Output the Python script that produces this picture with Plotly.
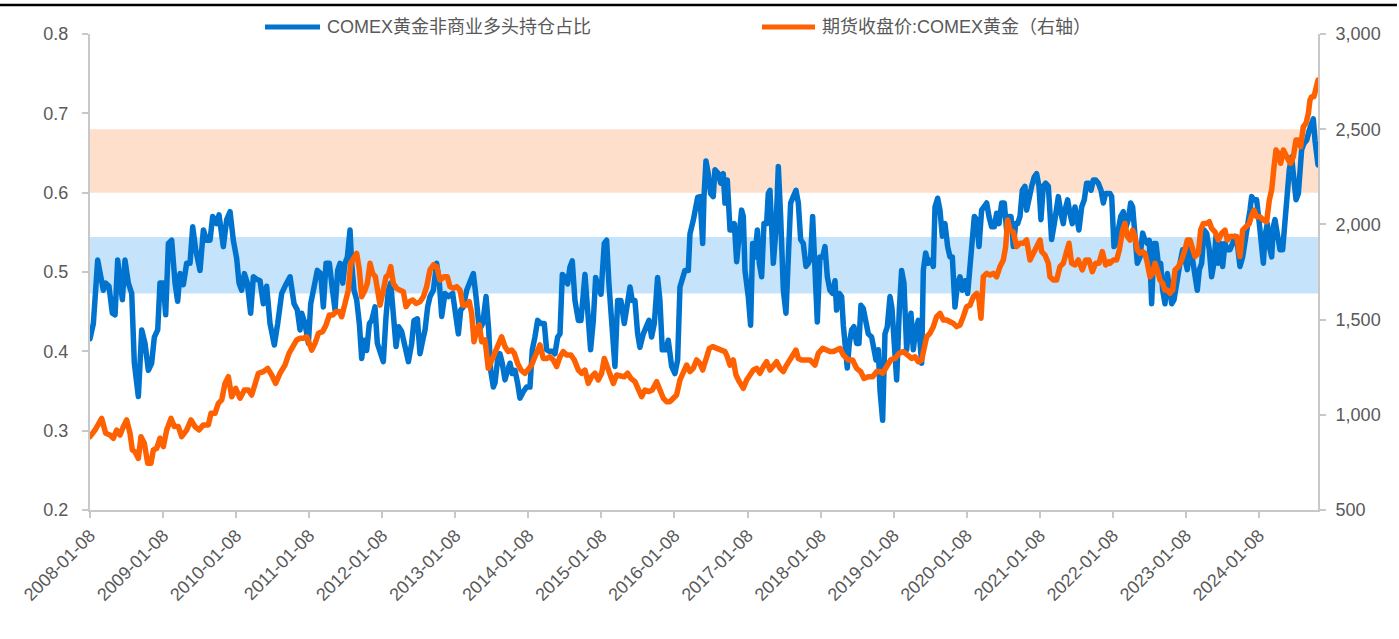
import pandas as pd
import plotly.graph_objects as go

# ---- COMEX gold: non-commercial long share (left axis) ----
blue_t = [
    2008.019, 2008.065, 2008.124, 2008.156, 2008.202, 2008.234, 2008.279, 2008.325, 2008.362, 2008.398,
    2008.430, 2008.462, 2008.498, 2008.544, 2008.590, 2008.626, 2008.681, 2008.727, 2008.772, 2008.818,
    2008.863, 2008.900, 2008.946, 2008.977, 2009.023, 2009.055, 2009.092, 2009.137, 2009.183, 2009.219,
    2009.251, 2009.297, 2009.342, 2009.388, 2009.425, 2009.466, 2009.525, 2009.571, 2009.616, 2009.662,
    2009.698, 2009.753, 2009.785, 2009.822, 2009.844, 2009.890, 2009.936, 2009.981, 2010.027, 2010.059,
    2010.095, 2010.132, 2010.173, 2010.218, 2010.255, 2010.300, 2010.346, 2010.392, 2010.437, 2010.483,
    2010.542, 2010.588, 2010.643, 2010.688, 2010.757,
    2010.812, 2010.857, 2010.894, 2010.917, 2010.962, 2011.008, 2011.040, 2011.085, 2011.131, 2011.177,
    2011.213, 2011.250, 2011.295, 2011.327, 2011.373, 2011.409, 2011.441, 2011.478, 2011.510, 2011.542,
    2011.578, 2011.601, 2011.633, 2011.669, 2011.706, 2011.738, 2011.770, 2011.806, 2011.843, 2011.875,
    2011.920, 2011.952, 2011.989, 2012.034, 2012.071, 2012.103, 2012.135, 2012.171, 2012.208, 2012.244,
    2012.285, 2012.331, 2012.377, 2012.422, 2012.454, 2012.500, 2012.536, 2012.573, 2012.605, 2012.641,
    2012.673, 2012.719, 2012.764, 2012.801, 2012.833, 2012.878, 2012.924, 2012.983, 2013.029, 2013.061,
    2013.093, 2013.129, 2013.175, 2013.220, 2013.266, 2013.303, 2013.348, 2013.394, 2013.440, 2013.476,
    2013.503, 2013.540,
    2013.562, 2013.598, 2013.630, 2013.662, 2013.699, 2013.735, 2013.767, 2013.799, 2013.836, 2013.872,
    2013.904, 2013.950, 2013.995, 2014.041, 2014.073, 2014.109, 2014.146, 2014.192, 2014.237, 2014.269,
    2014.301, 2014.347, 2014.383, 2014.420, 2014.452, 2014.484, 2014.520, 2014.557, 2014.588, 2014.620,
    2014.657, 2014.703, 2014.739, 2014.794, 2014.839, 2014.871, 2014.908, 2014.940, 2014.976, 2015.013,
    2015.058, 2015.090, 2015.122, 2015.159, 2015.204, 2015.241, 2015.286, 2015.332, 2015.378, 2015.410,
    2015.442, 2015.478, 2015.515, 2015.546, 2015.592, 2015.638, 2015.670, 2015.706, 2015.743, 2015.788,
    2015.820, 2015.852, 2015.898, 2015.934, 2015.980, 2016.025, 2016.062, 2016.094, 2016.126, 2016.162,
    2016.208, 2016.231, 2016.276, 2016.299, 2016.336,
    2016.368, 2016.405, 2016.423, 2016.450, 2016.482, 2016.514, 2016.550, 2016.573, 2016.619, 2016.651,
    2016.687, 2016.710, 2016.742, 2016.779, 2016.815, 2016.838, 2016.870, 2016.906, 2016.938, 2016.961,
    2016.984, 2017.029, 2017.061, 2017.089, 2017.121, 2017.153, 2017.180, 2017.212, 2017.244, 2017.280,
    2017.303, 2017.326, 2017.349, 2017.372, 2017.408, 2017.440, 2017.472, 2017.509, 2017.545, 2017.577,
    2017.609, 2017.645, 2017.682, 2017.714, 2017.746, 2017.782, 2017.819, 2017.851, 2017.883, 2017.910,
    2017.942, 2017.974, 2018.010, 2018.047, 2018.079, 2018.111, 2018.147, 2018.184, 2018.216, 2018.238,
    2018.275, 2018.307, 2018.330, 2018.352, 2018.384, 2018.412, 2018.444, 2018.476, 2018.512, 2018.544,
    2018.571, 2018.603, 2018.640, 2018.672, 2018.717, 2018.749, 2018.777, 2018.809, 2018.832, 2018.868,
    2018.900, 2018.932, 2018.969, 2018.996, 2019.023, 2019.060, 2019.096, 2019.128, 2019.160,
    2019.197, 2019.220, 2019.256, 2019.288, 2019.320, 2019.356, 2019.379, 2019.402, 2019.425, 2019.457,
    2019.493, 2019.530, 2019.562, 2019.585, 2019.621, 2019.653, 2019.685, 2019.721, 2019.758, 2019.790,
    2019.822, 2019.858, 2019.895, 2019.927, 2019.959, 2019.995, 2020.032, 2020.064, 2020.086, 2020.123,
    2020.155, 2020.187, 2020.223, 2020.260, 2020.292, 2020.324, 2020.360, 2020.397, 2020.429, 2020.461,
    2020.497, 2020.533, 2020.565, 2020.597, 2020.625, 2020.657, 2020.689, 2020.716, 2020.748, 2020.780,
    2020.816, 2020.839, 2020.871, 2020.908, 2020.944, 2020.976, 2021.008, 2021.035, 2021.067, 2021.099,
    2021.136, 2021.158, 2021.181, 2021.218, 2021.250, 2021.273, 2021.309, 2021.341, 2021.364, 2021.400,
    2021.432, 2021.464, 2021.501, 2021.523, 2021.555, 2021.592, 2021.628, 2021.660, 2021.692, 2021.720,
    2021.752, 2021.784, 2021.820, 2021.857, 2021.889, 2021.920, 2021.957,
    2021.980, 2022.003, 2022.035, 2022.062, 2022.094, 2022.126, 2022.162, 2022.199, 2022.231, 2022.263,
    2022.290, 2022.322, 2022.354, 2022.391, 2022.427, 2022.459, 2022.491, 2022.518, 2022.550, 2022.582,
    2022.610, 2022.641, 2022.673, 2022.701, 2022.733, 2022.765, 2022.792, 2022.824, 2022.856, 2022.892,
    2022.938, 2022.975, 2023.006, 2023.038, 2023.075, 2023.111, 2023.143, 2023.175, 2023.203, 2023.235,
    2023.267, 2023.303, 2023.339, 2023.371, 2023.403, 2023.431, 2023.463, 2023.495, 2023.522, 2023.554,
    2023.586, 2023.622, 2023.659, 2023.691, 2023.723, 2023.759, 2023.796, 2023.828, 2023.860, 2023.896,
    2023.919, 2023.951, 2023.987, 2024.024, 2024.056, 2024.079, 2024.101, 2024.133, 2024.161, 2024.193,
    2024.215, 2024.238, 2024.261, 2024.284, 2024.307, 2024.343, 2024.375, 2024.407, 2024.434, 2024.466,
    2024.498, 2024.526, 2024.558, 2024.580, 2024.603, 2024.635, 2024.672, 2024.708, 2024.740, 2024.763,
    2024.786, 2024.809, 2024.827,
]
blue_v = [
    0.416, 0.435, 0.515, 0.502, 0.477, 0.486, 0.482, 0.448, 0.446, 0.515,
    0.494, 0.465, 0.515, 0.486, 0.473, 0.385, 0.343, 0.427, 0.410, 0.376,
    0.385, 0.418, 0.427, 0.486, 0.486, 0.446, 0.536, 0.540, 0.486, 0.463,
    0.498, 0.484, 0.511, 0.511, 0.557, 0.528, 0.502, 0.553, 0.540, 0.540,
    0.570, 0.561, 0.572, 0.549, 0.532, 0.566, 0.576, 0.540, 0.517, 0.486,
    0.477, 0.498, 0.486, 0.448, 0.494, 0.491, 0.489, 0.460, 0.482, 0.435,
    0.408, 0.435, 0.473, 0.482, 0.494,
    0.460, 0.452, 0.427, 0.448, 0.435, 0.410, 0.460, 0.486, 0.502, 0.498,
    0.456, 0.511, 0.511, 0.486, 0.452, 0.502, 0.511, 0.486, 0.511, 0.519,
    0.553, 0.511, 0.477, 0.465, 0.435, 0.391, 0.414, 0.401, 0.435, 0.439,
    0.456, 0.410, 0.397, 0.387, 0.444, 0.477, 0.486, 0.439, 0.406, 0.431,
    0.425, 0.406, 0.387, 0.410, 0.439, 0.441, 0.397, 0.414, 0.427, 0.456,
    0.469, 0.477, 0.511, 0.486, 0.444, 0.473, 0.469, 0.473, 0.439, 0.422,
    0.452, 0.456, 0.477, 0.486, 0.498, 0.469, 0.427, 0.435, 0.469, 0.427,
    0.376, 0.355,
    0.360, 0.389, 0.397, 0.385, 0.364, 0.376, 0.385, 0.372, 0.376, 0.360,
    0.341, 0.349, 0.355, 0.355, 0.402, 0.418, 0.439, 0.435, 0.435, 0.402,
    0.400, 0.400, 0.397, 0.418, 0.422, 0.497, 0.493, 0.485, 0.506, 0.514,
    0.464, 0.439, 0.439, 0.497, 0.435, 0.402, 0.439, 0.493, 0.481, 0.472,
    0.536, 0.540, 0.485, 0.439, 0.381, 0.464, 0.464, 0.435, 0.464, 0.481,
    0.464, 0.464, 0.422, 0.405, 0.422, 0.431, 0.439, 0.418, 0.435, 0.493,
    0.464, 0.402, 0.402, 0.414, 0.381, 0.372, 0.389, 0.481, 0.489, 0.502,
    0.502, 0.548, 0.565, 0.575, 0.594,
    0.595, 0.536, 0.595, 0.640, 0.624, 0.599, 0.595, 0.629, 0.624, 0.612,
    0.624, 0.587, 0.616, 0.553, 0.553, 0.561, 0.513, 0.553, 0.578, 0.570,
    0.502, 0.469, 0.433, 0.536, 0.519, 0.553, 0.511, 0.494, 0.561, 0.561,
    0.599, 0.603, 0.557, 0.511, 0.553, 0.633, 0.570, 0.477, 0.448, 0.536,
    0.587, 0.595, 0.603, 0.587, 0.541, 0.536, 0.507, 0.511, 0.519, 0.570,
    0.477, 0.437, 0.519, 0.519, 0.532, 0.494, 0.477, 0.473, 0.489, 0.452,
    0.473, 0.469, 0.433, 0.405, 0.379, 0.410, 0.427, 0.431, 0.410, 0.410,
    0.458, 0.454, 0.431, 0.422, 0.418, 0.405, 0.389, 0.402, 0.351, 0.313,
    0.422, 0.431, 0.469, 0.454, 0.422, 0.364, 0.452, 0.502, 0.486,
    0.402, 0.427, 0.448, 0.402, 0.427, 0.439, 0.402, 0.385, 0.502, 0.524,
    0.511, 0.515, 0.507, 0.582, 0.593, 0.578, 0.545, 0.561, 0.532, 0.519,
    0.519, 0.456, 0.486, 0.494, 0.477, 0.489, 0.473, 0.507, 0.545, 0.570,
    0.566, 0.532, 0.578, 0.582, 0.587, 0.570, 0.557, 0.557, 0.574, 0.561,
    0.587, 0.587, 0.553, 0.570, 0.570, 0.532, 0.561, 0.561, 0.570, 0.603,
    0.608, 0.578, 0.595, 0.608, 0.620, 0.624, 0.608, 0.566, 0.608, 0.612,
    0.608, 0.570, 0.541, 0.561, 0.578, 0.595, 0.574, 0.561, 0.578, 0.591,
    0.574, 0.561, 0.582, 0.570, 0.553, 0.582, 0.591, 0.612, 0.612, 0.603,
    0.616, 0.616, 0.612, 0.603, 0.587, 0.599, 0.599,
    0.599, 0.595, 0.532, 0.536, 0.553, 0.570, 0.576, 0.557, 0.566, 0.587,
    0.582, 0.553, 0.511, 0.519, 0.549, 0.540, 0.536, 0.540, 0.460, 0.536,
    0.536, 0.511, 0.511, 0.477, 0.460, 0.498, 0.477, 0.460, 0.465, 0.490,
    0.511, 0.528, 0.511, 0.503, 0.536, 0.511, 0.498, 0.477, 0.503, 0.511,
    0.553, 0.549, 0.528, 0.494, 0.511, 0.545, 0.511, 0.536, 0.507, 0.536,
    0.528, 0.528, 0.536, 0.545, 0.536, 0.507, 0.519, 0.545, 0.557, 0.578,
    0.595, 0.591, 0.591, 0.561, 0.532, 0.511, 0.545, 0.561, 0.532, 0.519,
    0.557, 0.566, 0.553, 0.536, 0.528, 0.528, 0.570, 0.603, 0.629, 0.645,
    0.616, 0.591, 0.599, 0.624, 0.654, 0.662, 0.666, 0.679, 0.687, 0.693,
    0.666, 0.654, 0.635,
]

# ---- COMEX gold futures close, USD/oz (right axis) ----
gold_t = [
    2008.019, 2008.088, 2008.179, 2008.234, 2008.293, 2008.339, 2008.384, 2008.430, 2008.476, 2008.521,
    2008.567, 2008.599, 2008.635, 2008.681, 2008.717, 2008.763, 2008.809, 2008.854, 2008.886, 2008.932,
    2008.977, 2009.023, 2009.069, 2009.128, 2009.174, 2009.228, 2009.274, 2009.342, 2009.402, 2009.456,
    2009.511, 2009.571, 2009.639, 2009.675, 2009.730, 2009.776, 2009.822, 2009.867, 2009.913, 2009.959,
    2010.013, 2010.073, 2010.132, 2010.187, 2010.232, 2010.278, 2010.324, 2010.392, 2010.451, 2010.506,
    2010.560, 2010.620, 2010.688, 2010.743,
    2010.803, 2010.848, 2010.894, 2010.939, 2010.985, 2011.022, 2011.054, 2011.099, 2011.145, 2011.204,
    2011.250, 2011.295, 2011.341, 2011.387, 2011.432, 2011.464, 2011.510, 2011.555, 2011.587, 2011.633,
    2011.669, 2011.706, 2011.738, 2011.783, 2011.815, 2011.852, 2011.888, 2011.925, 2011.952, 2011.989,
    2012.025, 2012.071, 2012.103, 2012.135, 2012.171, 2012.217, 2012.262, 2012.308, 2012.345, 2012.390,
    2012.436, 2012.481, 2012.536, 2012.582, 2012.627, 2012.673, 2012.719, 2012.764, 2012.810, 2012.865,
    2012.910, 2012.947, 2012.993, 2013.038, 2013.084, 2013.120, 2013.166, 2013.211, 2013.243, 2013.275,
    2013.312, 2013.348, 2013.380, 2013.426, 2013.471, 2013.517,
    2013.562, 2013.608, 2013.653, 2013.699, 2013.744, 2013.790, 2013.827, 2013.872, 2013.918, 2013.973,
    2014.018, 2014.064, 2014.109, 2014.146, 2014.178, 2014.223, 2014.269, 2014.315, 2014.360, 2014.406,
    2014.452, 2014.497, 2014.543, 2014.602, 2014.648, 2014.703, 2014.748, 2014.794, 2014.839, 2014.885,
    2014.931, 2014.976, 2015.022, 2015.058, 2015.090, 2015.136, 2015.182, 2015.227, 2015.286, 2015.332,
    2015.378, 2015.423, 2015.478, 2015.524, 2015.569, 2015.615, 2015.670, 2015.715, 2015.775, 2015.820,
    2015.866, 2015.911, 2015.957, 2016.003, 2016.048, 2016.094, 2016.140, 2016.185, 2016.231, 2016.276,
    2016.322,
    2016.368, 2016.405, 2016.450, 2016.496, 2016.541, 2016.596, 2016.651, 2016.710, 2016.742, 2016.779,
    2016.824, 2016.861, 2016.906, 2016.961, 2017.007, 2017.052, 2017.098, 2017.144, 2017.189, 2017.235,
    2017.280, 2017.326, 2017.372, 2017.417, 2017.463, 2017.509, 2017.554, 2017.600, 2017.645, 2017.682,
    2017.714, 2017.759, 2017.819, 2017.874, 2017.942, 2017.988, 2018.047, 2018.092, 2018.147, 2018.193,
    2018.248, 2018.284, 2018.330, 2018.398, 2018.457, 2018.512, 2018.567, 2018.613, 2018.672, 2018.731,
    2018.786, 2018.832, 2018.868, 2018.923, 2018.978, 2019.037, 2019.096, 2019.151,
    2019.174, 2019.220, 2019.265, 2019.311, 2019.356, 2019.402, 2019.439, 2019.471, 2019.516, 2019.562,
    2019.607, 2019.653, 2019.699, 2019.744, 2019.790, 2019.836, 2019.881, 2019.927, 2019.972, 2020.018,
    2020.064, 2020.109, 2020.155, 2020.187, 2020.214, 2020.246, 2020.292, 2020.337, 2020.383, 2020.429,
    2020.474, 2020.520, 2020.552, 2020.579, 2020.611, 2020.657, 2020.702, 2020.748, 2020.794, 2020.839,
    2020.885, 2020.930, 2020.976, 2021.022, 2021.045, 2021.090, 2021.136, 2021.158, 2021.204, 2021.250,
    2021.295, 2021.341, 2021.387, 2021.419, 2021.455, 2021.501, 2021.546, 2021.601, 2021.647, 2021.692,
    2021.738, 2021.784, 2021.829, 2021.875, 2021.920, 2021.966,
    2021.980, 2022.026, 2022.071, 2022.108, 2022.153, 2022.185, 2022.217, 2022.254, 2022.290, 2022.322,
    2022.354, 2022.391, 2022.427, 2022.459, 2022.491, 2022.527, 2022.564, 2022.596, 2022.628, 2022.664,
    2022.701, 2022.733, 2022.765, 2022.801, 2022.838, 2022.870, 2022.915, 2022.961, 2023.006, 2023.038,
    2023.075, 2023.111, 2023.143, 2023.189, 2023.221, 2023.257, 2023.303, 2023.339, 2023.371, 2023.417,
    2023.463, 2023.508, 2023.554, 2023.586, 2023.622, 2023.668, 2023.714, 2023.759, 2023.796, 2023.841,
    2023.887, 2023.919, 2023.951, 2023.987, 2024.033, 2024.079, 2024.124, 2024.161, 2024.193, 2024.225,
    2024.252, 2024.284, 2024.316, 2024.352, 2024.389, 2024.421, 2024.453, 2024.489, 2024.526, 2024.558,
    2024.590, 2024.626, 2024.663, 2024.695, 2024.717, 2024.740, 2024.772, 2024.799, 2024.827,
]
gold_v = [
    885, 920, 981, 903, 894, 877, 920, 894, 938, 973,
    903, 815, 806, 771, 885, 850, 745, 745, 815, 824,
    877, 833, 920, 981, 938, 938, 885, 920, 973, 938,
    920, 947, 947, 1008, 1008, 1060, 1078, 1165, 1200, 1095,
    1139, 1087, 1130, 1130, 1104, 1156, 1218, 1227, 1244, 1209,
    1165, 1218, 1261, 1323,
    1367, 1393, 1402, 1402, 1410, 1375, 1340, 1375, 1428, 1437,
    1472, 1524, 1524, 1542, 1542, 1515, 1585, 1655, 1796, 1831,
    1848, 1761, 1620, 1655, 1690, 1796, 1743, 1725, 1655, 1576,
    1638, 1725, 1734, 1778, 1690, 1664, 1655, 1646, 1568, 1594,
    1603, 1585, 1594, 1620, 1673, 1761, 1787, 1778, 1708, 1725,
    1725, 1673, 1664, 1673, 1655, 1576, 1576, 1594, 1533, 1384,
    1445, 1472, 1384, 1393, 1244, 1288,
    1340, 1375, 1410, 1358, 1332, 1340, 1323, 1270, 1235, 1218,
    1235, 1261, 1305, 1349, 1367, 1296, 1296, 1305, 1288, 1253,
    1305, 1332, 1314, 1314, 1288, 1235, 1218, 1235, 1165, 1200,
    1218, 1183, 1218, 1296, 1261, 1218, 1165, 1209, 1200, 1200,
    1218, 1191, 1174, 1139, 1095, 1130, 1122, 1130, 1174, 1130,
    1087, 1069, 1069, 1087, 1104, 1183, 1227, 1261, 1227, 1244,
    1288,
    1270, 1235, 1296, 1349, 1358, 1349, 1340, 1332, 1305, 1261,
    1288, 1209, 1174, 1139, 1183, 1209, 1235, 1244, 1218, 1253,
    1279, 1235, 1261, 1279, 1244, 1227, 1261, 1288, 1305, 1340,
    1296, 1288, 1288, 1288, 1261, 1323, 1349, 1340, 1332, 1332,
    1340, 1349, 1314, 1288, 1288, 1244, 1227, 1191, 1200, 1200,
    1227, 1227, 1218, 1253, 1288, 1296, 1323, 1332,
    1323, 1314, 1296, 1305, 1279, 1288, 1340, 1410, 1428, 1463,
    1515, 1533, 1498, 1498, 1489, 1480, 1463, 1472, 1515, 1568,
    1576, 1620, 1638, 1603, 1507, 1725, 1743, 1734, 1743, 1725,
    1778, 1813, 1883, 2023, 1970, 1961, 1883, 1901, 1901, 1918,
    1813, 1857, 1883, 1918, 1857, 1839, 1796, 1725, 1708, 1708,
    1778, 1796, 1866, 1901, 1796, 1787, 1813, 1761, 1813, 1813,
    1752, 1796, 1796, 1857, 1787, 1804,
    1796, 1813, 1813, 1866, 1970, 2005, 1936, 1918, 1970, 1936,
    1866, 1848, 1857, 1848, 1796, 1725, 1743, 1796, 1761, 1708,
    1690, 1655, 1655, 1638, 1655, 1761, 1778, 1813, 1866, 1918,
    1918, 1866, 1831, 1848, 1970, 2005, 2005, 2014, 1979, 1961,
    1918, 1953, 1970, 1918, 1936, 1936, 1936, 1831, 1970, 1988,
    2005, 2049, 2075, 2040, 2040, 2023, 2014, 2128, 2181, 2303,
    2391, 2373, 2321, 2391, 2356, 2338, 2321, 2356, 2443, 2443,
    2408, 2513, 2531, 2583, 2653, 2671, 2671, 2723, 2758,
]

# Reference bands on the left axis
high_band = [0.60, 0.68]
mid_band = [0.473, 0.544]

tick_years = list(range(2008, 2025))
tick_labels = [f"{y}-01-08" for y in tick_years]

series_names = ["COMEX黄金非商业多头持仓占比", "期货收盘价:COMEX黄金（右轴）"]

assert len(blue_t) == len(blue_v) and len(gold_t) == len(gold_v)

BLUE = "#0073CF"
ORANGE = "#FF6000"
TXT = "#595959"
AXIS = "#C8C8C8"
FONT = "Liberation Sans, Arial, Noto Sans CJK SC, sans-serif"


def to_dates(ts):
    base = pd.Timestamp("2008-01-01")
    return [base + pd.Timedelta(days=(t - 2008) * 365.25) for t in ts]


blue_x = to_dates(blue_t)
gold_x = to_dates(gold_t)
tick_vals = [pd.Timestamp(s) for s in tick_labels]
x_end = max(blue_x[-1], gold_x[-1])

fig = go.Figure()
fig.add_trace(go.Scatter(x=blue_x, y=blue_v, mode="lines", name=series_names[0],
                         line=dict(color=BLUE, width=5.5), yaxis="y"))
fig.add_trace(go.Scatter(x=gold_x, y=gold_v, mode="lines", name=series_names[1],
                         line=dict(color=ORANGE, width=5.5), yaxis="y2"))

shapes = [
    dict(type="rect", xref="paper", yref="y", x0=0, x1=1, y0=high_band[0], y1=high_band[1],
         fillcolor="#FDDFCC", line=dict(width=0), layer="below"),
    dict(type="rect", xref="paper", yref="y", x0=0, x1=1, y0=mid_band[0], y1=mid_band[1],
         fillcolor="#C5E4FB", line=dict(width=0), layer="below"),
    # rule across the top of the page
    dict(type="line", xref="paper", yref="paper", x0=-0.0733, x1=1.0643, y0=1.0609, y1=1.0609,
         line=dict(color="black", width=2.5)),
    # legend keys
    dict(type="line", xref="paper", yref="paper", x0=0.1425, x1=0.1873, y0=1.0147, y1=1.0147,
         line=dict(color=BLUE, width=5)),
    dict(type="line", xref="paper", yref="paper", x0=0.5472, x1=0.5904, y0=1.0147, y1=1.0147,
         line=dict(color=ORANGE, width=5)),
]

annotations = [
    dict(xref="paper", yref="paper", x=0.1914, y=1.0147, xanchor="left", yanchor="middle",
         text=series_names[0], showarrow=False, font=dict(size=18, color=TXT, family=FONT)),
    dict(xref="paper", yref="paper", x=0.5945, y=1.0147, xanchor="left", yanchor="middle",
         text=series_names[1], showarrow=False, font=dict(size=18, color=TXT, family=FONT)),
]

fig.update_layout(
    width=1399, height=639,
    margin=dict(l=90, r=81, t=34, b=129, autoexpand=False),
    paper_bgcolor="white", plot_bgcolor="white",
    showlegend=False,
    font=dict(family=FONT, size=18, color=TXT),
    shapes=shapes, annotations=annotations,
    xaxis=dict(
        type="date", range=[tick_vals[0], x_end],
        tickmode="array", tickvals=tick_vals, ticktext=tick_labels, tickangle=-45,
        showline=True, linecolor=AXIS, linewidth=2,
        ticks="outside", ticklen=6, tickcolor=AXIS, tickwidth=1.5,
        showgrid=False, zeroline=False, tickfont=dict(size=18, color=TXT),
    ),
    yaxis=dict(
        range=[0.2, 0.8], tickmode="linear", tick0=0.2, dtick=0.1, tickformat=".1f",
        showline=True, linecolor=AXIS, linewidth=2,
        ticks="outside", ticklen=6, tickcolor=AXIS, tickwidth=1.5,
        showgrid=False, zeroline=False, ticklabelstandoff=10,
        tickfont=dict(size=18, color=TXT),
    ),
    yaxis2=dict(
        range=[500, 3000], tickmode="linear", tick0=500, dtick=500, tickformat=",d",
        overlaying="y", side="right",
        showline=True, linecolor=AXIS, linewidth=2,
        ticks="outside", ticklen=6, tickcolor=AXIS, tickwidth=1.5,
        showgrid=False, zeroline=False, ticklabelstandoff=6,
        tickfont=dict(size=18, color=TXT),
    ),
)

round_joins = """
var gd = document.getElementById('{plot_id}');
function roundLines() {
  gd.querySelectorAll('.scatterlayer .js-line').forEach(function (p) {
    p.style.strokeLinejoin = 'round';
    p.style.strokeLinecap = 'round';
  });
}
roundLines();
gd.on('plotly_afterplot', roundLines);
"""

fig.write_html("out.html", post_script=round_joins)
